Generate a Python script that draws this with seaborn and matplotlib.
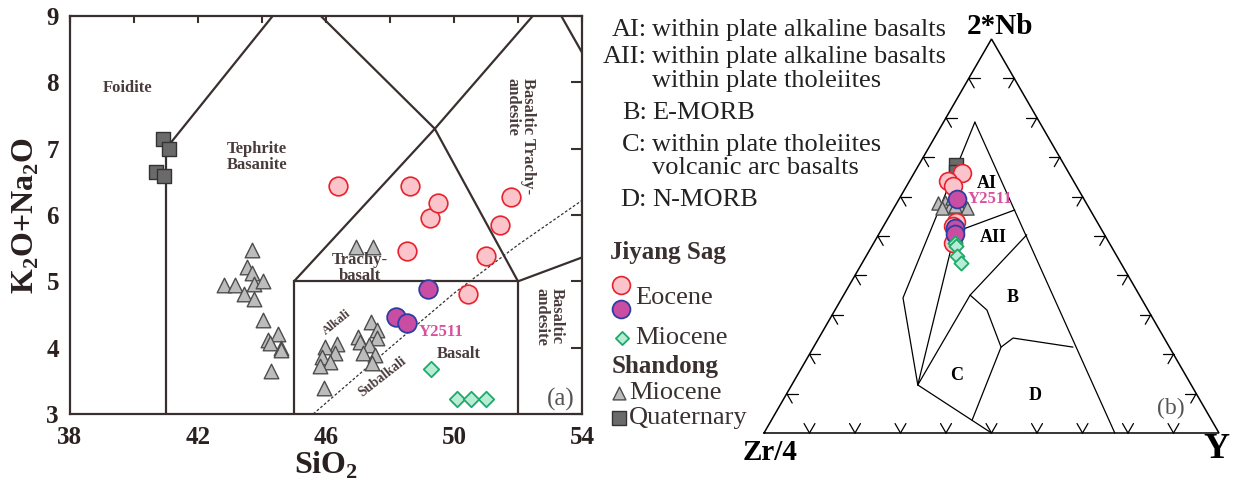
import numpy as np
import matplotlib
matplotlib.use("Agg")
import matplotlib.pyplot as plt
import seaborn as sns

# ---------------- TAS diagram data (SiO2 wt%, Na2O+K2O wt%) ----------------
jiyang_eocene_sio2 = [46.38, 48.63, 49.25, 49.50, 48.53, 51.78, 51.44, 51.00, 50.44]
jiyang_eocene_alk = [6.44, 6.44, 5.95, 6.18, 5.46, 6.27, 5.85, 5.38, 4.81]
y2511_sio2 = [49.19, 48.20, 48.53]
y2511_alk = [4.88, 4.46, 4.37]
jiyang_miocene_sio2 = [49.28, 50.10, 50.53, 51.00]
jiyang_miocene_alk = [3.68, 3.22, 3.22, 3.22]
shandong_miocene_sio2 = [43.69, 43.53, 43.69, 42.81, 43.16, 43.75, 44.03, 43.44, 43.75, 44.03,
                         44.19, 44.50, 44.59, 44.59, 44.28, 44.25,
                         46.94, 47.47,
                         47.40, 47.60, 47.00, 47.60, 47.06, 46.34, 45.97, 47.34, 46.28,
                         45.88, 47.16, 47.53, 46.13, 47.44, 45.81, 45.94]
shandong_miocene_alk = [5.47, 5.21, 5.12, 4.94, 4.94, 4.96, 5.00, 4.81, 4.73, 4.41,
                        4.11, 4.21, 4.00, 3.96, 3.65, 4.07,
                        5.52, 5.52,
                        4.38, 4.26, 4.16, 4.14, 4.08, 4.06, 4.01, 4.04, 3.92,
                        3.86, 3.92, 3.89, 3.78, 3.77, 3.72, 3.39]
shandong_quat_sio2 = [40.91, 41.09, 40.69, 40.94]
shandong_quat_alk = [7.14, 6.99, 6.65, 6.59]

x_ticks = [38, 40, 42, 44, 46, 48, 50, 52, 54]
x_tick_labels = ["38", "", "42", "", "46", "", "50", "", "54"]
y_ticks = [3, 4, 5, 6, 7, 8, 9]

# TAS field boundaries (Le Bas et al., 1986)
tas_lines = [
    [(41, 3), (41, 7), (45, 9.4)],
    [(45, 3), (45, 5), (52, 5), (52, 3)],
    [(45, 5), (49.4, 7.3), (52, 5)],
    [(49.4, 7.3), (45, 9.4)],
    [(49.4, 7.3), (53, 9.3)],
    [(52, 5), (57, 5.9)],
    [(53, 9.3), (57, 5.9)],
]
alkaline_divide = [(45.6, 3.0), (48.0, 4.0), (50.0, 4.82), (52.0, 5.55), (54.0, 6.22)]

# ---------------- Nb-Zr-Y ternary data (2*Nb, Zr/4, Y in %) ----------------
tern_eocene_red = [(66.0, 23.5, 10.5), (64.0, 27.6, 8.4), (62.7, 27.1, 10.2), (53.6, 31.0, 15.4),
                   (52.5, 32.2, 15.3), (51.8, 32.1, 16.1), (48.2, 34.4, 17.4)]
tern_y2511 = [(59.4, 27.9, 12.7), (52.0, 32.0, 16.0), (50.5, 32.8, 16.7)]
tern_miocene_green = [(48.2, 33.9, 17.9), (47.5, 34.1, 18.4), (44.9, 35.1, 20.0), (43.1, 35.1, 21.8)]
tern_shandong_miocene = [(58.4, 32.6, 9.0), (58.6, 30.9, 10.5), (57.4, 30.4, 12.2), (57.1, 32.3, 10.6),
                         (57.1, 28.4, 14.5), (57.1, 26.8, 16.1), (59.6, 28.9, 11.5), (57.6, 29.2, 13.2)]
tern_shandong_quat = [(68.0, 23.8, 8.2), (66.2, 24.7, 9.1)]

# Meschede (1986) field boundary vertices
F_APEX = (78.9, 14.2, 6.9)
F_LEFT_KINK = (34.3, 52.3, 13.4)
F_C_CORNER = (12.2, 60.1, 27.7)
F_BASE_C = (0.0, 50.0, 50.0)
F_BASE_RIGHT = (0.0, 22.9, 77.1)
F_AI_R = (56.6, 16.6, 26.8)
F_AI_L = (51.0, 32.5, 16.5)
F_AII_R = (50.3, 17.1, 32.6)
F_B_KINK = (35.0, 37.2, 27.8)
F_CD1 = (31.2, 35.4, 33.4)
F_CD2 = (21.8, 37.0, 41.2)
F_CD3 = (3.3, 52.6, 44.1)
F_BD1 = (24.1, 33.2, 42.7)
F_BD_R = (21.8, 21.2, 57.0)
field_lines = [
    [F_APEX, F_LEFT_KINK, F_C_CORNER],
    [F_APEX, F_BASE_RIGHT],
    [F_AI_R, F_AI_L],
    [F_AI_L, F_C_CORNER],
    [F_C_CORNER, F_B_KINK, F_AII_R],
    [F_C_CORNER, F_BASE_C],
    [F_B_KINK, F_CD1, F_CD2, F_CD3],
    [F_CD2, F_BD1, F_BD_R],
]

# ---------------- styles ----------------
RED_FILL, RED_EDGE = "#fbc4cb", "#e8222c"
PUR_FILL, PUR_EDGE = "#c94ea3", "#2f3da3"
GRN_FILL, GRN_EDGE = "#b9ecd6", "#1eaa68"
TRI_FILL, TRI_EDGE = "#bcbcbc", "#4d4d4d"
SQR_FILL, SQR_EDGE = "#6a6a6a", "#333333"
LINE_C = "#3a2f2f"
LABEL_C = "#4a3c3c"
PINK = "#d9509e"

sns.set_style("white")
plt.rcParams["font.family"] = ["Liberation Serif", "DejaVu Serif"]
plt.rcParams["mathtext.fontset"] = "custom"
plt.rcParams["mathtext.rm"] = "Liberation Serif"
plt.rcParams["mathtext.bf"] = "Liberation Serif:bold"

W, H = 1233, 480
fig = plt.figure(figsize=(W / 100, H / 100), dpi=100)


def box(x0, y0, x1, y1):
    return [x0 / W, 1 - y1 / H, (x1 - x0) / W, (y1 - y0) / H]


ax = fig.add_axes(box(70, 16, 582, 414))
axr = fig.add_axes(box(764, 39, 1219, 433))
axo = fig.add_axes([0, 0, 1, 1])
axo.set_xlim(0, W)
axo.set_ylim(H, 0)
axo.set_axis_off()

# ================= (a) TAS =================
for seg in tas_lines:
    xs, ys = zip(*seg)
    ax.plot(xs, ys, color=LINE_C, lw=1.6, solid_joinstyle="miter", zorder=2)
xs, ys = zip(*alkaline_divide)
ax.plot(xs, ys, color="#333333", lw=0.9, ls=(0, (2.2, 1.6)), zorder=2)

sns.scatterplot(x=shandong_miocene_sio2, y=shandong_miocene_alk, ax=ax, marker="^", s=110,
                color=TRI_FILL, edgecolor=TRI_EDGE, linewidth=1.0, zorder=3)
sns.scatterplot(x=shandong_quat_sio2, y=shandong_quat_alk, ax=ax, marker="s", s=115,
                color=SQR_FILL, edgecolor=SQR_EDGE, linewidth=1.0, zorder=3)
sns.scatterplot(x=jiyang_eocene_sio2, y=jiyang_eocene_alk, ax=ax, marker="o", s=180,
                color=RED_FILL, edgecolor=RED_EDGE, linewidth=1.2, zorder=4)
sns.scatterplot(x=y2511_sio2, y=y2511_alk, ax=ax, marker="o", s=180,
                color=PUR_FILL, edgecolor=PUR_EDGE, linewidth=1.3, zorder=4)
sns.scatterplot(x=jiyang_miocene_sio2, y=jiyang_miocene_alk, ax=ax, marker="D", s=62,
                color=GRN_FILL, edgecolor=GRN_EDGE, linewidth=1.3, zorder=4)

ax.set_xlim(38, 54)
ax.set_ylim(3, 9)
ax.set_xticks(x_ticks)
ax.set_xticklabels(x_tick_labels)
ax.set_yticks(y_ticks)
ax.tick_params(direction="in", top=True, right=True, width=1.5, color=LINE_C,
               labelsize=18, labelcolor="#2a2020")
ax.tick_params(axis="x", length=5, pad=9)
ax.tick_params(axis="y", length=8, pad=8)
for lab in ax.get_xticklabels() + ax.get_yticklabels():
    lab.set_fontweight("bold")
for sp in ax.spines.values():
    sp.set_linewidth(1.6)
    sp.set_color(LINE_C)
ax.set_xlabel(r"SiO$_\mathbf{2}$", fontsize=23, fontweight="bold", color="#2a2020", labelpad=0)
ax.set_ylabel(r"K$_\mathbf{2}$O+Na$_\mathbf{2}$O", fontsize=23, fontweight="bold",
              color="#2a2020", labelpad=4)

lab_kw = dict(fontweight="bold", color=LABEL_C, fontsize=12, ha="center", va="center")
ax.text(39.81, 7.91, "Foidite", **lab_kw)
ax.text(43.84, 6.87, "Tephrite\nBasanite", linespacing=1.0, **lab_kw)
ax.text(47.06, 5.20, "Trachy-\nbasalt", linespacing=1.0, **lab_kw)
ax.text(50.16, 3.90, "Basalt", **lab_kw)
ax.text(52.06, 8.06, "Basaltic Trachy-\nandesite", rotation=270, ha="center", va="top",
        fontweight="bold", color=LABEL_C, fontsize=12, linespacing=0.95, multialignment="left")
ax.text(52.97, 4.90, "Basaltic\nandesite", rotation=270, ha="center", va="top",
        fontweight="bold", color=LABEL_C, fontsize=12, linespacing=0.95, multialignment="left")
ax.text(46.34, 4.38, "Alkali", rotation=39, fontsize=9, fontweight="bold", color=LABEL_C,
        ha="center", va="center")
ax.text(47.75, 3.56, "Subalkali", rotation=38, fontsize=10, fontweight="bold", color=LABEL_C,
        ha="center", va="center")
ax.text(48.88, 4.23, "Y2511", fontsize=12, fontweight="bold", color=PINK, ha="left", va="center")
ax.text(53.34, 3.22, "(a)", fontsize=18, color="#555555", ha="center", va="center")

# ================= (b) Nb-Zr-Y ternary =================
SQ3 = np.sqrt(3) / 2


def ternary_xy(points):
    pts = np.asarray(points, dtype=float)
    tot = pts.sum(axis=1)
    a = pts[:, 0] / tot
    c = pts[:, 2] / tot
    return c + a / 2, a * SQ3


axr.set_xlim(0, 1)
axr.set_ylim(0, SQ3)
axr.set_axis_off()

corners = [(0, 0), (1, 0), (0.5, SQ3), (0, 0)]
cx, cy = zip(*corners)
axr.plot(cx, cy, color="black", lw=1.1, solid_joinstyle="miter", clip_on=False)

# chevron ticks at 10 % steps, arms parallel to the other two edges
arm = 0.024
for k in range(1, 10):
    t = k / 10
    for ang in (60, 120):
        axr.plot([t, t + arm * np.cos(np.radians(ang))], [0, arm * np.sin(np.radians(ang))],
                 color="black", lw=0.9, clip_on=False)
    px, py = t / 2, t * SQ3
    for ang in (0, -60):
        axr.plot([px, px + arm * np.cos(np.radians(ang))], [py, py + arm * np.sin(np.radians(ang))],
                 color="black", lw=0.9, clip_on=False)
    px, py = 1 - t / 2, t * SQ3
    for ang in (180, 240):
        axr.plot([px, px + arm * np.cos(np.radians(ang))], [py, py + arm * np.sin(np.radians(ang))],
                 color="black", lw=0.9, clip_on=False)

for seg in field_lines:
    fx, fy = ternary_xy(seg)
    axr.plot(fx, fy, color="black", lw=0.9, clip_on=False)

tx, ty = ternary_xy(tern_shandong_miocene)
sns.scatterplot(x=tx, y=ty, ax=axr, marker="^", s=90, color=TRI_FILL, edgecolor=TRI_EDGE,
                linewidth=1.0, zorder=3, clip_on=False)
tx, ty = ternary_xy(tern_shandong_quat)
sns.scatterplot(x=tx, y=ty, ax=axr, marker="s", s=100, color=SQR_FILL, edgecolor=SQR_EDGE,
                linewidth=1.0, zorder=3, clip_on=False)
tx, ty = ternary_xy(tern_eocene_red)
sns.scatterplot(x=tx, y=ty, ax=axr, marker="o", s=165, color=RED_FILL, edgecolor=RED_EDGE,
                linewidth=1.2, zorder=4, clip_on=False)
tx, ty = ternary_xy(tern_y2511)
sns.scatterplot(x=tx, y=ty, ax=axr, marker="o", s=165, color=PUR_FILL, edgecolor=PUR_EDGE,
                linewidth=1.3, zorder=5, clip_on=False)
tx, ty = ternary_xy(tern_miocene_green)
sns.scatterplot(x=tx, y=ty, ax=axr, marker="D", s=52, color=GRN_FILL, edgecolor=GRN_EDGE,
                linewidth=1.3, zorder=6, clip_on=False)

# ternary text, placed in pixel space of the overlay
tern_kw = dict(fontweight="bold", color="black", ha="center", va="center")
axo.text(987, 183, "AI", fontsize=13, **tern_kw)
axo.text(993, 238, "AII", fontsize=13, **tern_kw)
axo.text(1013, 297, "B", fontsize=13, **tern_kw)
axo.text(957, 376, "C", fontsize=13, **tern_kw)
axo.text(1035, 396, "D", fontsize=13, **tern_kw)
axo.text(968, 199, "Y2511", fontsize=12, fontweight="bold", color=PINK, ha="left", va="center")
axo.text(1171, 408, "(b)", fontsize=17, color="#555555", ha="center", va="center")
axo.text(1000, 26, "2*Nb", fontsize=21, **tern_kw)
axo.text(770, 452, "Zr/4", fontsize=21, **tern_kw)
axo.text(1216, 450, "Y", fontsize=26, **tern_kw)

# field key
key_kw = dict(fontsize=19, color="#222222", va="center")
COLON_X = 650
key_rows = [
    (30, "AI:", "within plate alkaline basalts"),
    (57, "AII:", "within plate alkaline basalts"),
    (81, "", "within plate tholeiites"),
    (113, "B:", "E-MORB"),
    (145, "C:", "within plate tholeiites"),
    (168, "", "volcanic arc basalts"),
    (200, "D:", "N-MORB"),
]
for yy, code, desc in key_rows:
    if code:
        axo.text(COLON_X - 3, yy, code, ha="right", **key_kw)
    axo.text(COLON_X + 2, yy, desc, ha="left", **key_kw)

# symbol legend
leg_c = "#3a3030"
axo.text(610, 253, "Jiyang Sag", fontsize=18, fontweight="bold", color=leg_c, va="center")
axo.scatter([621], [285], marker="o", s=165, color=RED_FILL, edgecolor=RED_EDGE, linewidth=1.2)
axo.scatter([621], [309], marker="o", s=165, color=PUR_FILL, edgecolor=PUR_EDGE, linewidth=1.3)
axo.text(635, 298, "Eocene", fontsize=19, color=leg_c, va="center")
axo.scatter([622], [338], marker="D", s=45, color=GRN_FILL, edgecolor=GRN_EDGE, linewidth=1.3)
axo.text(635, 338, "Miocene", fontsize=19, color=leg_c, va="center")
axo.text(612, 367, "Shandong", fontsize=18, fontweight="bold", color=leg_c, va="center")
axo.scatter([619], [393], marker="^", s=85, color=TRI_FILL, edgecolor=TRI_EDGE, linewidth=1.0)
axo.text(629, 393, "Miocene", fontsize=19, color=leg_c, va="center")
axo.scatter([619], [418], marker="s", s=100, color=SQR_FILL, edgecolor=SQR_EDGE, linewidth=1.0)
axo.text(629, 418, "Quaternary", fontsize=19, color=leg_c, va="center")

fig.savefig("out.png", dpi=100)
